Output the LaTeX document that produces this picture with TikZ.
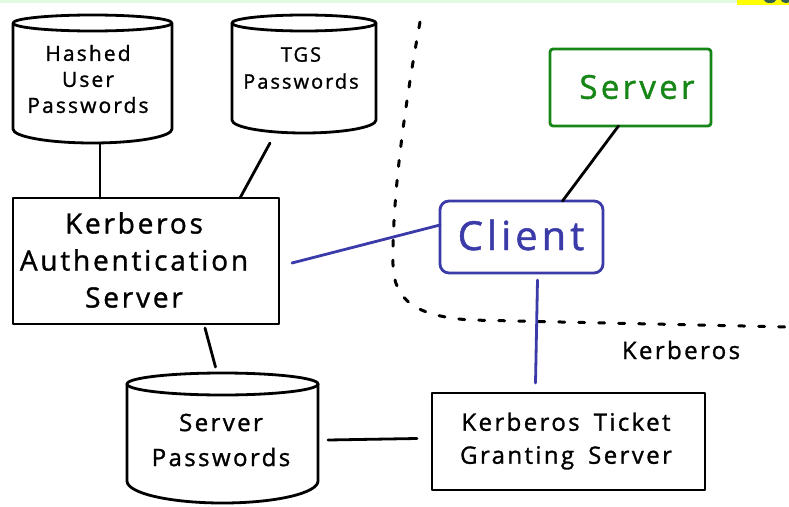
\documentclass[tikz,border=0pt]{standalone}
\usepackage{fontspec}
\setmainfont{Open Sans}[LetterSpace=10, FakeBold=1.2]
\usetikzlibrary{calc}

\definecolor{inkblue}{RGB}{58,58,168}
\definecolor{inkgreen}{RGB}{22,134,22}
\definecolor{topstrip}{RGB}{226,250,226}
\definecolor{tagyellow}{RGB}{255,255,0}
\definecolor{tagtext}{RGB}{50,95,80}

\tikzset{
  ink/.style={line width=2.8pt, line cap=round, line join=round, draw=black},
  dbshape/.style={inner sep=0pt, outer sep=0pt, draw=none},
  boxshape/.style={ink, inner sep=0pt, outer sep=0pt},
  txt/.style={inner sep=0pt, align=center},
}

% cylinder drawn around an (invisible) node: name, x radius, top y radius, bottom y radius
\newcommand\drawdb[4]{%
  \draw[ink] ($(#1.north)+(0,#3)$) ellipse [x radius=#2pt, y radius=#3pt];
  \draw[ink] ($(#1.north west)+(0,#3)$) -- ($(#1.south west)+(0,-#4)$)
    arc[start angle=180, end angle=360, x radius=#2pt, y radius=#4pt]
    -- ($(#1.north east)+(0,#3)$);
}

\begin{document}
\begin{tikzpicture}[x=1pt, y=-1pt]
\useasboundingbox (0,0) rectangle (789,506);

% strip along the top edge
\fill[topstrip] (0,0) rectangle (789,2.5);
\fill[tagyellow] (737,0) rectangle (789,5);
\fill[tagtext] (770,0) ellipse [x radius=6pt, y radius=3pt];
\fill[tagtext] (786,0) ellipse [x radius=5pt, y radius=3pt];

% databases
\node[dbshape, minimum width=159pt, minimum height=128pt] (hashed) at (92.5,79) {};
\drawdb{hashed}{79.5}{8}{14}
\node[txt, font=\fontsize{21}{26}\selectfont] (hashedtext) at (88,79) {Hashed\\User\\Passwords};

\node[dbshape, minimum width=144pt, minimum height=118pt] (tgsdb) at (304,74) {};
\drawdb{tgsdb}{72}{8}{13}
\node[txt, font=\fontsize{20}{27}\selectfont] (tgsdbtext) at (301,68) {TGS\\Passwords};

\node[dbshape, minimum width=191pt, minimum height=130pt] (srvdb) at (222.5,438) {};
\drawdb{srvdb}{95.5}{11}{22}
\node[txt, font=\fontsize{24}{35}\selectfont] (srvdbtext) at (221,440) {Server\\Passwords};

% servers and client
\node[boxshape, minimum width=266pt, minimum height=126pt] (auth) at (146,261) {};
\node[txt, font=\fontsize{28}{37}\selectfont] (authtext) at (134,260) {Kerberos\\Authentication\\Server};

\node[boxshape, draw=inkblue, rounded corners=9pt, minimum width=163pt, minimum height=72pt] (client) at (521.5,237) {};
\node[txt, text=inkblue, font=\fontsize{40}{40}\selectfont] (clienttext) at (521,235) {Client};

\node[boxshape, draw=inkgreen, rounded corners=3pt, minimum width=161pt, minimum height=77pt] (server) at (630.5,87.5) {};
\node[txt, text=inkgreen, font=\fontsize{33}{33}\selectfont] (servertext) at (637,87) {Server};

\node[boxshape, minimum width=273pt, minimum height=97pt] (tgs) at (568.5,441.5) {};
\node[txt, font=\fontsize{24}{33}\selectfont] (tgstext) at (566,441) {Kerberos\hspace{14pt}Ticket\\Granting\hspace{14pt}Server};

% realm boundary
\draw[ink, line width=3pt, dash pattern=on 6pt off 14pt]
  (420,22) .. controls (404,110) and (392,200) .. (393,265)
  .. controls (394,300) and (415,316) .. (470,320) -- (789,327);
\node[txt, font=\fontsize{24}{24}\selectfont] (realm) at (681,350) {Kerberos};

% connections
\draw[ink] ([xshift=7.5pt]hashed.south) -- ([xshift=7.5pt]hashed.south |- auth.north);
\draw[ink] ([xshift=-34pt,yshift=-10pt]tgsdb.south) -- ([xshift=94pt]auth.north);
\draw[ink, draw=inkblue] ([xshift=13pt,yshift=-2pt]auth.east) -- ([yshift=12pt]client.west);
\draw[ink] ([xshift=41pt]client.north) -- ([xshift=-12pt]server.south);
\draw[ink, draw=inkblue] ([xshift=16pt,yshift=-7pt]client.south) -- ([xshift=-33pt,yshift=10pt]tgs.north);
\draw[ink] ([xshift=59pt,yshift=-4pt]auth.south) -- ([xshift=-7pt,yshift=6pt]srvdb.north);
\draw[ink] ([xshift=10pt,yshift=-2pt]srvdb.east) -- ([xshift=-15pt,yshift=3pt]tgs.west);
\end{tikzpicture}
\end{document}
